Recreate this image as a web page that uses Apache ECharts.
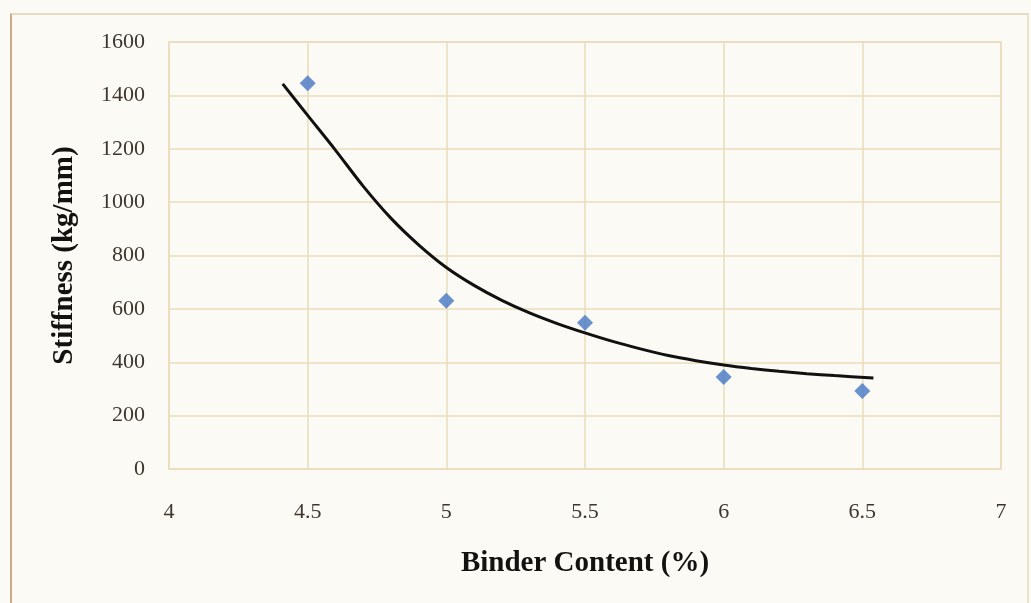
<!DOCTYPE html>
<html>
<head>
<meta charset="utf-8">
<script src="https://cdn.jsdelivr.net/npm/echarts@6/dist/echarts.min.js"></script>
<style>
  html, body { margin: 0; padding: 0; background: #fbfaf4; }
  #frame {
    position: absolute; left: 10px; top: 13px; width: 1019px; height: 600px;
    border-left: 2px solid #c9a886; border-top: 2px solid #e6dcc4; border-right: 2px solid #e9e2cf;
    box-sizing: border-box;
  }
  #chart { position: absolute; left: 0; top: 0; width: 1031px; height: 603px; }
</style>
</head>
<body>
<div id="frame"></div>
<div id="chart"></div>
<script>
// Measured stiffness at each binder content
const binderContent = [4.5, 5, 5.5, 6, 6.5];
const stiffness = [1445, 630, 548, 345, 292];

// Trend curve through the measurements (binder %, stiffness)
const trendX = [4.41, 4.5, 4.6, 4.7, 4.8, 4.9, 5.0, 5.1, 5.2, 5.3, 5.4, 5.5,
                5.6, 5.7, 5.8, 5.9, 6.0, 6.1, 6.2, 6.3, 6.4, 6.54];
const trendY = [1443, 1325, 1195, 1060, 940, 840, 755, 688, 632, 585, 545, 510,
                478, 450, 425, 406, 390, 377, 366, 357, 350, 341];

const xTicks = [4, 4.5, 5, 5.5, 6, 6.5, 7];
const yTicks = [0, 200, 400, 600, 800, 1000, 1200, 1400, 1600];

const gridColor = '#eadcbc';
const tickFont = { fontFamily: 'Liberation Serif', fontSize: 22, color: '#3e352e' };
const titleFont = { fontFamily: 'Liberation Serif', fontSize: 29, fontWeight: 'bold', color: '#141210' };

const chart = echarts.init(document.getElementById('chart'));
chart.setOption({
  backgroundColor: 'transparent',
  animation: false,
  grid: { left: 169, right: 30, top: 42, bottom: 134, show: true, borderColor: gridColor, borderWidth: 1.5 },
  xAxis: {
    type: 'value', min: xTicks[0], max: xTicks[xTicks.length - 1], interval: 0.5,
    axisLine: { show: false }, axisTick: { show: false },
    splitLine: { show: true, lineStyle: { color: gridColor, width: 1.5 } },
    axisLabel: Object.assign({ margin: 32, formatter: v => String(v) }, tickFont),
    name: 'Binder Content (%)', nameLocation: 'middle', nameGap: 80,
    nameTextStyle: titleFont
  },
  yAxis: {
    type: 'value', min: yTicks[0], max: yTicks[yTicks.length - 1], interval: 200,
    axisLine: { show: false }, axisTick: { show: false },
    splitLine: { show: true, lineStyle: { color: gridColor, width: 1.5 } },
    axisLabel: Object.assign({ margin: 24, formatter: v => String(v) }, tickFont),
    name: 'Stiffness (kg/mm)', nameLocation: 'middle', nameGap: 90,
    nameTextStyle: titleFont
  },
  series: [
    {
      type: 'line', smooth: 0.3, showSymbol: false, z: 2,
      data: trendX.map((x, i) => [x, trendY[i]]),
      lineStyle: { color: '#111', width: 3 }
    },
    {
      type: 'scatter', symbol: 'diamond', symbolSize: 16, z: 3,
      data: binderContent.map((x, i) => [x, stiffness[i]]),
      itemStyle: { color: '#4477c4' }
    }
  ]
});
</script>
</body>
</html>
